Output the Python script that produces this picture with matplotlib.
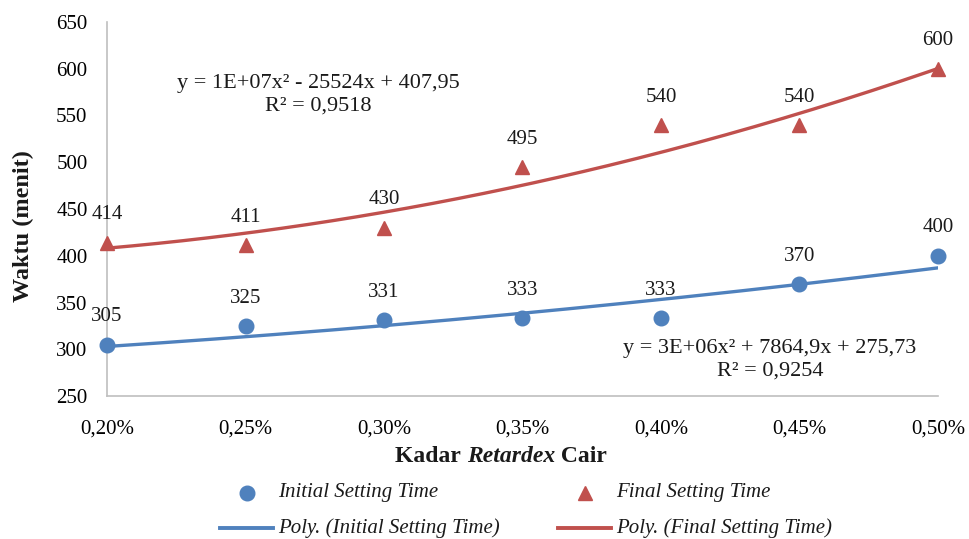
import numpy as np
import matplotlib
matplotlib.use("Agg")
import matplotlib.pyplot as plt
from matplotlib.lines import Line2D
from matplotlib.ticker import FuncFormatter

plt.rcParams.update({"font.family": ["Liberation Serif", "DejaVu Serif"],
                     "font.size": 15, "text.color": "#1a1a1a"})

kadar = [0.0020, 0.0025, 0.0030, 0.0035, 0.0040, 0.0045, 0.0050]
initial_time = [305, 325, 331, 333, 333, 370, 400]
final_time = [414, 411, 430, 495, 540, 540, 600]
# quadratic trendline coefficients (a, b, c) as drawn in the chart
initial_trend = [2.88e6, 7864.9, 275.73]
final_trend = [1.28e7, -25524, 407.95]
blue, red = "#4F81BD", "#C0504D"

W, H = 970, 539
fig = plt.figure(figsize=(W / 100, H / 100), dpi=100)
ax = fig.add_axes([107 / W, 1 - 396 / H, (938 - 107) / W, (396 - 22) / H])

xs = np.linspace(min(kadar), max(kadar), 200)
ax.plot(xs, np.polyval(initial_trend, xs), color=blue, lw=2.4, zorder=2)
ax.plot(xs, np.polyval(final_trend, xs), color=red, lw=2.4, zorder=2)

ax.plot(kadar, initial_time, "o", color=blue, ms=10.5, clip_on=False, zorder=3)
ax.plot(kadar, final_time, "^", color=red, ms=10.5, clip_on=False, zorder=3)
for xi, a, b in zip(kadar, initial_time, final_time):
    for v in (a, b):
        ax.annotate(str(v), (xi, v), xytext=(0, 20), textcoords="offset points",
                    ha="center", va="center", fontsize=15)

ax.set_xlim(0.002, 0.005)
ax.set_ylim(250, 650)
ax.set_xticks(kadar)
ax.set_yticks(range(250, 651, 50))
ax.xaxis.set_major_formatter(FuncFormatter(lambda v, _: f"{v*100:.2f}%".replace(".", ",")))
ax.tick_params(axis="x", length=0, pad=17, labelsize=15)
ax.tick_params(axis="y", length=0, pad=14, labelsize=15)
for s in ["top", "right"]:
    ax.spines[s].set_visible(False)
for s in ["left", "bottom"]:
    ax.spines[s].set_color("#bfbfbf")
    ax.spines[s].set_linewidth(1.2)

ax.text((318 - 107) / 831, 1 - (95 - 22) / 374, "y = 1E+07x\u00b2 - 25524x + 407,95\nR\u00b2 = 0,9518",
        transform=ax.transAxes, ha="center", va="center", fontsize=16, linespacing=1.25)
ax.text((770 - 107) / 831, 1 - (360 - 22) / 374, "y = 3E+06x\u00b2 + 7864,9x + 275,73\nR\u00b2 = 0,9254",
        transform=ax.transAxes, ha="center", va="center", fontsize=16, linespacing=1.25)

fig.text(23 / W, 1 - 226 / H, "Waktu (menit)", rotation=90, ha="center", va="center",
         fontsize=17.5, fontweight="bold")

# x label with italic middle word
fig.canvas.draw()
r = fig.canvas.get_renderer()
yl = 1 - 456 / H
parts = [("Kadar ", "normal"), ("Retardex", "italic"), (" Cair", "normal")]
texts = []
for s, st in parts:
    texts.append(fig.text(0, yl, s, fontsize=17, fontweight="bold", fontstyle=st,
                          ha="left", va="center"))
widths = [t.get_window_extent(r).width for t in texts]
x0 = (501 - sum(widths) / 2)
for t, w in zip(texts, widths):
    t.set_x(x0 / W)
    x0 += w

# legend, laid out like the original two-column legend
legend_items = [
    (247, 493, "o", blue, "Initial Setting Time"),
    (585, 493, "^", red, "Final Setting Time"),
    (247, 528, "-", blue, "Poly. (Initial Setting Time)"),
    (585, 528, "-", red, "Poly. (Final Setting Time)"),
]
for cx, cy, m, c, lab in legend_items:
    yf = 1 - cy / H
    if m == "-":
        fig.add_artist(Line2D([(cx - 27) / W, (cx + 26) / W], [yf, yf], color=c, lw=2.8))
    else:
        fig.add_artist(Line2D([cx / W], [yf], marker=m, ls="none", color=c, ms=10.5))
    fig.text((cx + 31) / W, yf, lab, fontsize=15, fontstyle="italic", ha="left", va="center")

fig.savefig("out.png", dpi=100)
